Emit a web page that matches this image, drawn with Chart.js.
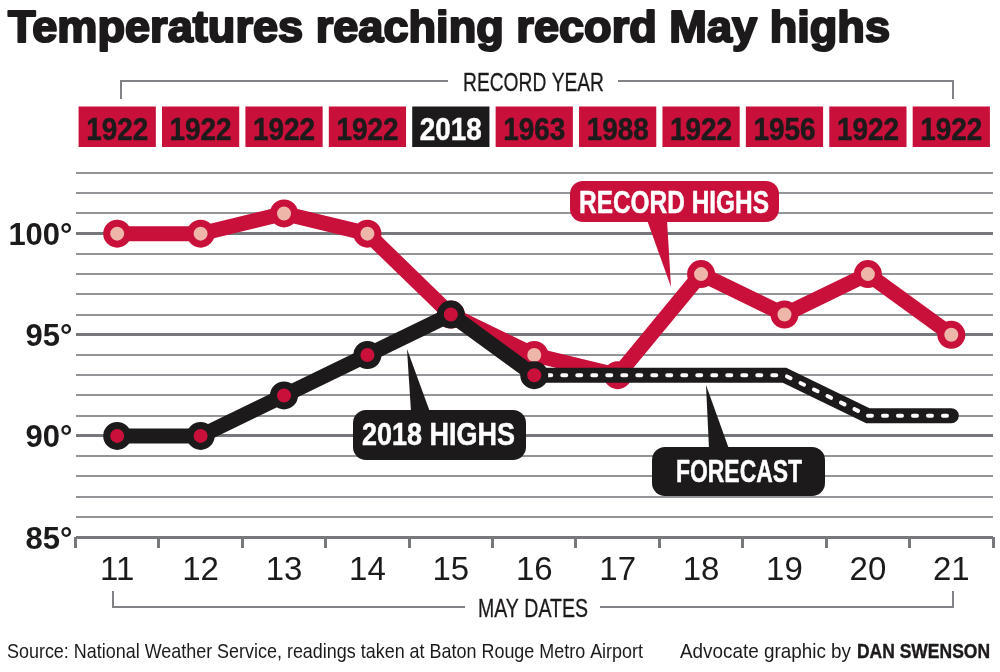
<!DOCTYPE html>
<html>
<head>
<meta charset="utf-8">
<script src="https://cdn.jsdelivr.net/npm/chart.js@4"></script>
<style>
  html, body { margin: 0; padding: 0; background: #fff; }
  canvas { display: block; }
</style>
</head>
<body>
<canvas id="chart" width="1000" height="672"></canvas>
<script>
const dates = ['11', '12', '13', '14', '15', '16', '17', '18', '19', '20', '21']
const recordYears = ['1922', '1922', '1922', '1922', '2018', '1963', '1988', '1922', '1956', '1922', '1922']
const recordHighs = [100, 100, 101, 100, 96, 94, 93, 98, 96, 98, 95]
const highs2018 = [90, 90, 92, 94, 96, 93, null, null, null, null, null]
const forecast = [null, null, null, null, null, 93, 93, 93, 93, 91, 91]
const yLabelled = [85, 90, 95, 100]

const RED = '#c8103a'
const PINK = '#eeb6a9'
const BLACK = '#1d1a1b'
const GRID = '#939598'
const GRID_MAJOR = '#77787b'
const SANS = '"Liberation Sans", sans-serif'

// squeeze text to a given width, there is no condensed face installed
function fitText(ctx, text, x, y, width, font, color, heavy) {
  ctx.save()
  ctx.font = font
  ctx.fillStyle = color
  ctx.strokeStyle = color
  ctx.lineJoin = 'round'
  ctx.textAlign = 'left'
  ctx.textBaseline = 'alphabetic'
  const w = ctx.measureText(text).width
  ctx.translate(x, y)
  ctx.scale(width / w, 1)
  ctx.fillText(text, 0, 0)
  if (heavy) {
    ctx.lineWidth = heavy
    ctx.strokeText(text, 0, 0)
  }
  ctx.restore()
}

function bracket(ctx, points) {
  ctx.beginPath()
  ctx.moveTo(points[0][0], points[0][1])
  points.slice(1).forEach((p) => ctx.lineTo(p[0], p[1]))
  ctx.stroke()
}

function callout(ctx, box, pointer, label) {
  ctx.fillStyle = box.color
  ctx.beginPath()
  ctx.roundRect(box.x, box.y, box.w, box.h, 13)
  ctx.fill()
  ctx.beginPath()
  ctx.moveTo(pointer[0][0], pointer[0][1])
  ctx.lineTo(pointer[1][0], pointer[1][1])
  ctx.lineTo(pointer[2][0], pointer[2][1])
  ctx.closePath()
  ctx.fill()
  fitText(ctx, label.text, label.x, label.y, label.w, 'bold 31px ' + SANS, '#fff', 0.5)
}

const furniture = {
  id: 'furniture',
  beforeDatasetsDraw(chart) {
    const ctx = chart.ctx
    const x = chart.scales.x

    fitText(ctx, 'Temperatures reaching record May highs', 8, 42, 882, 'bold 45px ' + SANS, BLACK, 2.2)

    ctx.save()
    ctx.strokeStyle = '#808285'
    ctx.lineWidth = 2
    bracket(ctx, [[121, 99], [121, 81], [448, 81]])
    bracket(ctx, [[618, 81], [953, 81], [953, 99]])
    bracket(ctx, [[113, 591], [113, 607], [465, 607]])
    bracket(ctx, [[600, 607], [953, 607], [953, 591]])
    ctx.restore()

    fitText(ctx, 'RECORD YEAR', 463, 91, 141, '26px ' + SANS, BLACK, 0.3)
    fitText(ctx, 'MAY DATES', 478, 617, 110, '26px ' + SANS, BLACK, 0.3)

    const band = x.getPixelForValue(1) - x.getPixelForValue(0)
    recordYears.forEach((year, i) => {
      const cx = x.getPixelForValue(i)
      const isNow = year === '2018'
      ctx.fillStyle = isNow ? BLACK : RED
      ctx.fillRect(cx - band * 0.463, 106.5, band * 0.926, 40.5)
      fitText(ctx, year, cx - 31, 140, 62, 'bold 32px ' + SANS, isNow ? '#fff' : BLACK, 0.5)
    })

    fitText(ctx, 'Source: National Weather Service, readings taken at Baton Rouge Metro Airport', 7, 658, 636, '21px ' + SANS, BLACK)
    fitText(ctx, 'Advocate graphic by', 680, 658, 171, '21px ' + SANS, BLACK)
    fitText(ctx, 'DAN SWENSON', 857, 658, 133, 'bold 21px ' + SANS, BLACK, 0.4)
  },
  afterDatasetsDraw(chart) {
    const ctx = chart.ctx
    callout(ctx, { x: 570, y: 181, w: 209, h: 41, color: RED },
      [[647, 220], [671, 287], [667, 220]],
      { text: 'RECORD HIGHS', x: 579, y: 213, w: 190 })
    callout(ctx, { x: 353, y: 410, w: 173, h: 50, color: BLACK },
      [[411, 412], [407, 349], [430, 412]],
      { text: '2018 HIGHS', x: 362, y: 445, w: 153 })
    callout(ctx, { x: 652, y: 447, w: 173, h: 49, color: BLACK },
      [[709, 449], [706, 385], [729, 449]],
      { text: 'FORECAST', x: 676, y: 482, w: 126 })
  },
}

new Chart(document.getElementById('chart'), {
  type: 'line',
  plugins: [furniture],
  data: {
    labels: dates,
    datasets: [
      {
        label: '2018 highs',
        data: highs2018,
        order: 1,
        borderColor: BLACK,
        borderWidth: 15,
        borderJoinStyle: 'miter',
        pointRadius: 10.5,
        pointBorderWidth: 7,
        pointBackgroundColor: RED,
        pointBorderColor: BLACK,
        tension: 0,
      },
      {
        label: 'Forecast dashes',
        data: forecast,
        order: 2,
        borderColor: '#fff',
        borderWidth: 4,
        borderDash: [4, 11],
        borderDashOffset: 2,
        borderCapStyle: 'round',
        pointRadius: 0,
        tension: 0,
      },
      {
        label: 'Forecast',
        data: forecast,
        order: 3,
        borderColor: BLACK,
        borderWidth: 15,
        borderCapStyle: 'round',
        borderJoinStyle: 'miter',
        pointRadius: 0,
        tension: 0,
      },
      {
        label: 'Record highs',
        data: recordHighs,
        order: 4,
        borderColor: RED,
        borderWidth: 15,
        borderJoinStyle: 'miter',
        pointRadius: 10.5,
        pointBorderWidth: 7,
        pointBackgroundColor: PINK,
        pointBorderColor: RED,
        tension: 0,
      },
    ],
  },
  options: {
    responsive: false,
    devicePixelRatio: 1,
    animation: false,
    layout: { autoPadding: false, padding: { top: 173, right: 7, left: 0, bottom: 0 } },
    plugins: { legend: { display: false }, tooltip: { enabled: false } },
    scales: {
      x: {
        offset: true,
        afterFit(scale) { scale.height = 135 },
        border: { display: false },
        grid: {
          offset: true,
          drawOnChartArea: false,
          color: GRID_MAJOR,
          lineWidth: 3,
          tickLength: 11,
        },
        ticks: {
          color: BLACK,
          padding: 3,
          font: { family: SANS, size: 33 },
          maxRotation: 0,
        },
      },
      y: {
        min: 85,
        max: 103,
        afterFit(scale) { scale.width = 75.5 },
        border: { display: false },
        grid: {
          drawTicks: false,
          color: (c) => (c.tick.value % 5 === 0 ? GRID_MAJOR : GRID),
          lineWidth: (c) => (c.tick.value % 5 === 0 ? 3 : 2),
        },
        ticks: {
          stepSize: 1,
          autoSkip: false,
          padding: 3,
          color: BLACK,
          // empty first line + short line height nudges the label down a few px
          font: { family: SANS, size: 31, weight: 'bold', lineHeight: '6px' },
          callback: (v) => (yLabelled.includes(v) ? ['', v + '°'] : ''),
        },
      },
    },
  },
})
</script>
</body>
</html>
